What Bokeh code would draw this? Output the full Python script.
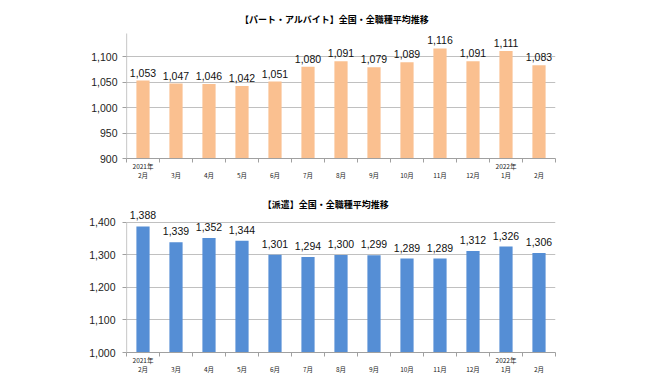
from bokeh.plotting import figure
from bokeh.layouts import column
from bokeh.models import ColumnDataSource, FixedTicker, Range1d, NumeralTickFormatter, LinearAxis
from bokeh.core.properties import value
from bokeh.embed import file_html
from bokeh.resources import INLINE

months = ["2月", "3月", "4月", "5月", "6月", "7月", "8月", "9月", "10月", "11月", "12月", "1月", "2月"]
year_labels = {0: "2021年", 11: "2022年"}
part_values = [1053, 1047, 1046, 1042, 1051, 1080, 1091, 1079, 1089, 1116, 1091, 1111, 1083]
haken_values = [1388, 1339, 1352, 1344, 1301, 1294, 1300, 1299, 1289, 1289, 1312, 1326, 1306]
part_title = "【パート・アルバイト】全国・全職種平均推移"
haken_title = "【派遣】全国・全職種平均推移"
part_yticks = [900, 950, 1000, 1050, 1100]
haken_yticks = [1000, 1100, 1200, 1300, 1400]

JP = "Noto Sans CJK JP"
NUM = "Liberation Sans"
AX = "#a0a0a0"


def make(title, vals, yticks, ymin, axis_top, yend, color, w, h, bl, br, bb,
         title_x, title_dy, lab_dy, ylab_standoff):
    n = len(vals)
    xs = list(range(n))
    src = ColumnDataSource(dict(x=xs, y=vals, lab=[f"{v:,}" for v in vals]))
    p = figure(width=w, height=h, output_backend="svg", toolbar_location=None,
               x_range=Range1d(-0.5, n - 0.5), y_range=Range1d(ymin, yend),
               min_border_left=bl, min_border_right=br, min_border_top=2, min_border_bottom=bb)
    p.outline_line_color = None
    p.vbar(x="x", top="y", bottom=ymin, width=0.4, source=src, fill_color=color, line_color=None)
    p.text(x="x", y="y", text="lab", source=src, text_align="center", text_baseline="middle",
           y_offset=-lab_dy, text_font=value(NUM), text_font_size="10.5px", text_color="#111111")
    # chart title
    p.text(x=[title_x], y=[yend], text=[title], text_align="center", text_baseline="middle",
           y_offset=title_dy, text_font=value(JP), text_font_size="9px",
           text_font_style="bold", text_color="#000000")
    # y axis line up to the top of the value area
    p.segment(x0=[-0.5], y0=[ymin], x1=[-0.5], y1=[axis_top], line_color=AX, line_width=1.2)
    # x axis 1: boundary ticks + year labels
    xa = p.xaxis[0]
    xa.ticker = FixedTicker(ticks=list(year_labels.keys()), minor_ticks=[i - 0.5 for i in range(n + 1)])
    xa.major_label_overrides = year_labels
    xa.major_tick_out = 0
    xa.major_tick_in = 0
    xa.minor_tick_out = 4
    xa.minor_tick_in = 0
    xa.minor_tick_line_color = AX
    xa.axis_line_color = AX
    xa.major_label_text_font = JP
    xa.major_label_text_font_size = "6.5px"
    xa.major_label_standoff = -2
    xa.major_label_text_color = "#222222"
    # x axis 2: month labels
    xb = LinearAxis(ticker=FixedTicker(ticks=xs, minor_ticks=[]),
                    major_label_overrides={i: m for i, m in enumerate(months)})
    xb.axis_line_color = None
    xb.major_tick_line_color = None
    xb.minor_tick_line_color = None
    xb.major_tick_out = 0
    xb.major_tick_in = 0
    xb.major_label_text_font = JP
    xb.major_label_text_font_size = "6.5px"
    xb.major_label_standoff = -4
    xb.major_label_text_color = "#222222"
    p.add_layout(xb, "below")
    # y axis
    p.yaxis.ticker = FixedTicker(ticks=yticks, minor_ticks=[])
    p.yaxis.formatter = NumeralTickFormatter(format="0,0")
    p.yaxis.major_tick_out = 4
    p.yaxis.major_tick_in = 0
    p.yaxis.major_tick_line_color = AX
    p.yaxis.axis_line_color = None
    p.yaxis.major_label_text_font = NUM
    p.yaxis.major_label_text_font_size = "10.5px"
    p.yaxis.major_label_text_color = "#222222"
    p.yaxis.major_label_standoff = ylab_standoff
    p.xgrid.grid_line_color = None
    p.ygrid.ticker = FixedTicker(ticks=yticks[1:])
    p.ygrid.grid_line_color = "#c0c0c0"
    p.ygrid.grid_line_width = 1
    return p


p1 = make(part_title, part_values, part_yticks, 900, 1145, 1206, "#FAC090",
          634, 193, 126, 79, 35, 5.80, 17, 8, 5)
p2 = make(haken_title, haken_values, haken_yticks, 1000, 1400, 1483, "#558ED5",
          634, 186, 116, 69, 27, 5.54, 9, 11, 7)

layout = column(p1, p2, spacing=0)
open("out.html", "w").write(file_html(layout, INLINE))
